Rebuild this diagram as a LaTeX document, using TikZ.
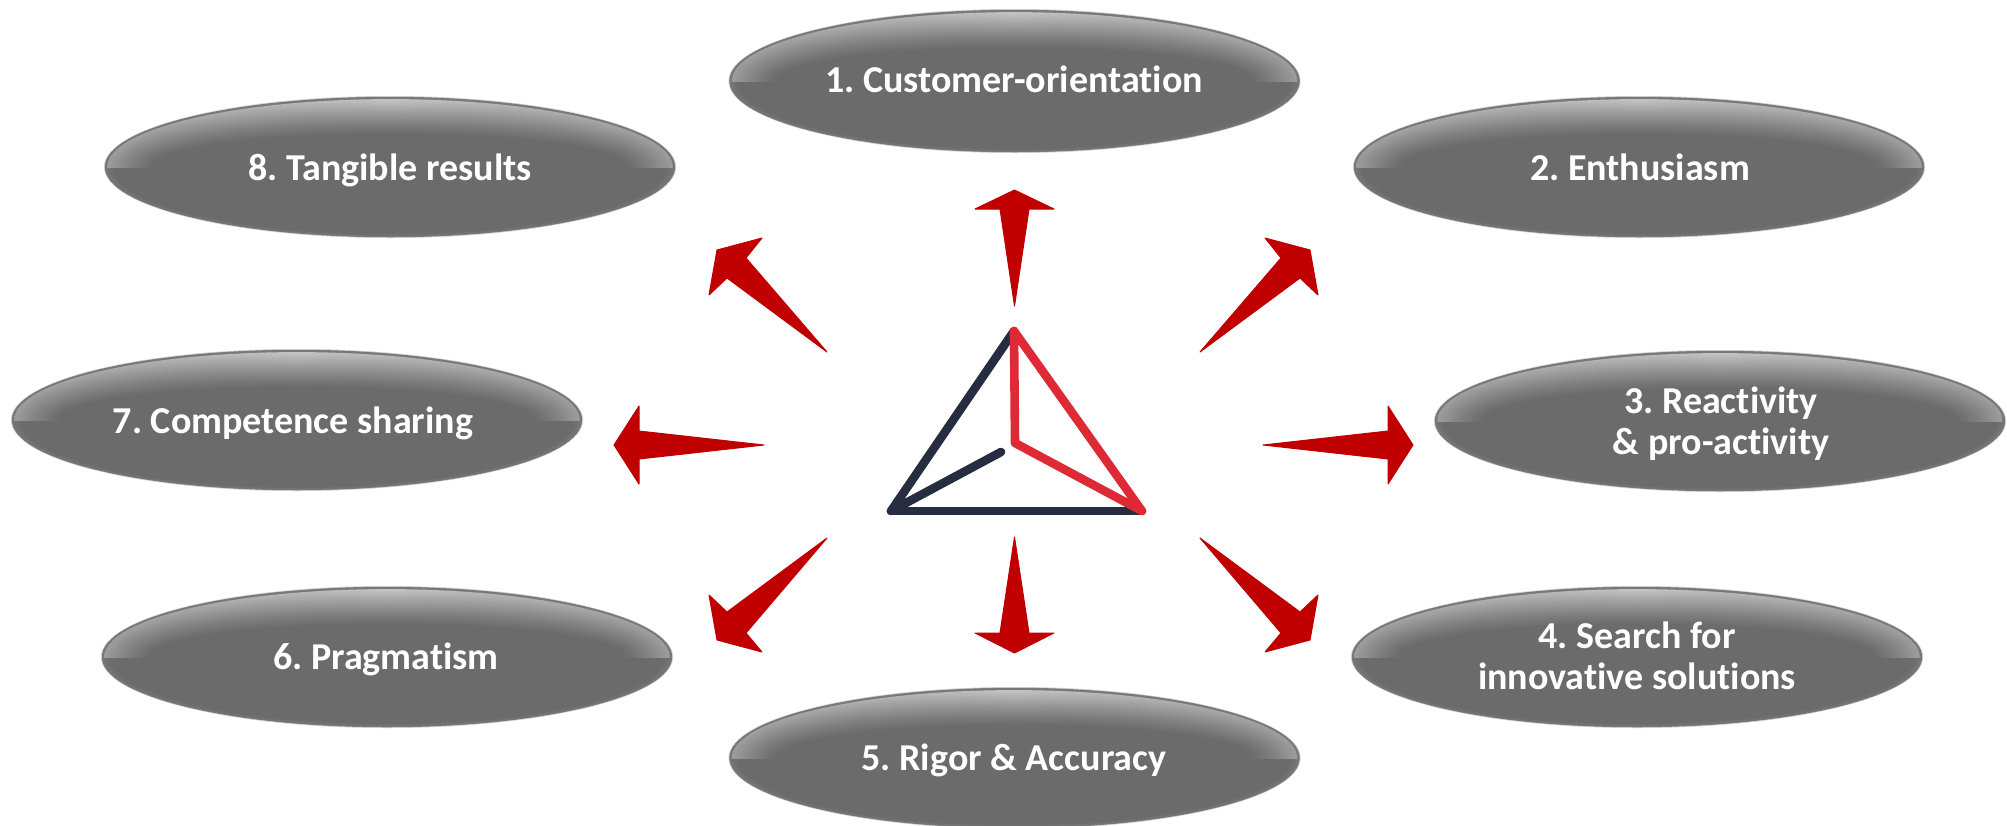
\documentclass[tikz,border=0pt]{standalone}
\usepackage{fontspec}
\setmainfont[Ligatures=NoCommon]{Carlito}
\definecolor{arrowred}{HTML}{C00000}
\definecolor{ovalbase}{HTML}{6B6B6B}
\definecolor{ovallight}{HTML}{C4C4C4}
\definecolor{ovalrim}{HTML}{787878}
\definecolor{logodark}{HTML}{262D40}
\definecolor{logored}{HTML}{DD2A35}
\tikzset{
  ovaltext/.style={text=white,font=\fontsize{19}{20.5}\selectfont\bfseries,align=center,inner sep=0pt,anchor=base},
  redarrow/.style={fill=arrowred,draw=arrowred,line width=0.5pt,line join=round},
  logodarkline/.style={draw=logodark,line width=4.3pt,line cap=round,line join=round},
  logoredline/.style={draw=logored,line width=4.3pt,line cap=round,line join=round},
}
% bevelled oval: centre x, centre y, x radius, y radius
\newcommand{\bevoval}[4]{%
  \begin{scope}[shift={(#1,#2)}]
    \fill[white!65!ovalbase] (0,0) ellipse [x radius=#3+1, y radius=#4+1];
    \fill[ovalbase] (0,0) ellipse [x radius=#3, y radius=#4];
    % lower rim
    \begin{scope}
      \clip (-#3-3,0) rectangle (#3+3,#4+3);
      \foreach \t in {0,10,...,100}{
        \pgfmathsetmacro{\rx}{#3*(1-0.03*\t/100)}
        \pgfmathsetmacro{\ry}{#4*(1-0.05*\t/100)}
        \pgfmathsetmacro{\mixv}{100-\t}
        \fill[ovalrim!\mixv!ovalbase] (0,0) ellipse [x radius=\rx, y radius=\ry];
      }
    \end{scope}
    % upper bevel
    \begin{scope}
      \clip (-#3-3,0) rectangle (#3+3,-#4-3);
      \fill[ovalrim] (0,0) ellipse [x radius=#3, y radius=#4];
      \foreach \t in {0,5,...,100}{
        \pgfmathsetmacro{\rx}{#3*(1-0.008-0.16*\t/100)}
        \pgfmathsetmacro{\ry}{#4*(1-0.03-0.50*\t/100)}
        \pgfmathsetmacro{\mixv}{100*(1-\t/100)^1.2}
        \pgfmathsetmacro{\mixe}{\mixv*0.55}
        \path[left color=ovallight!\mixe!ovalbase,right color=ovallight!\mixe!ovalbase,middle color=ovallight!\mixv!ovalbase] (0,0) ellipse [x radius=\rx, y radius=\ry];
      }
    \end{scope}
  \end{scope}%
}
\begin{document}
\frenchspacing
\begin{tikzpicture}[x=0.5pt,y=-0.5pt]
\useasboundingbox (0,0) rectangle (2007,825);

\begin{scope}
\clip (0,0) rectangle (2007,825);
\bevoval{1014.5}{81}{285}{71}
\bevoval{1639}{167}{285}{70}
\bevoval{1720}{421}{285}{70}
\bevoval{1637}{657}{285}{70}
\bevoval{1014.5}{758}{285}{70}
\bevoval{387}{657}{285}{70}
\bevoval{297}{420}{285}{70}
\bevoval{390}{167}{285}{70}
\end{scope}

\node[ovaltext] (t1) at (1014,92) {1. Customer-orientation};
\node[ovaltext] (t2) at (1640,180) {2. Enthusiasm};
\node[ovaltext] (t3) at (1721,454) {3. Reactivity\\\& pro-activity};
\node[ovaltext] (t4) at (1637,689) {4. Search for\\innovative solutions};
\node[ovaltext] (t5) at (1014,770) {5. Rigor \& Accuracy};
\node[ovaltext] (t6) at (386,669) {6. Pragmatism};
\node[ovaltext] (t7) at (293,433) {7. Competence sharing};
\node[ovaltext] (t8) at (390,180) {8. Tangible results};

% vertical arrows
\path[redarrow] (1014.5,306) -- (1029,209) -- (1054,209) -- (1014.5,190) -- (975,209) -- (1000,209) -- cycle;
\path[redarrow] (1014.5,537) -- (1029,633) -- (1054,633) -- (1014.5,653) -- (975,633) -- (1000,633) -- cycle;
% horizontal arrows
\path[redarrow] (1263,445) -- (1388,431) -- (1388,406) -- (1413,445) -- (1388,484) -- (1388,459) -- cycle;
\path[redarrow] (764,445) -- (639,431) -- (639,406) -- (614,445) -- (639,484) -- (639,459) -- cycle;
% diagonal arrows
\path[redarrow] (1200,352) -- (1281,258) -- (1265,238) -- (1310,250) -- (1318,295) -- (1300,278) -- cycle;
\path[redarrow] (1200,538) -- (1281,633) -- (1265,652) -- (1310,640) -- (1318,595) -- (1300,612) -- cycle;
\path[redarrow] (827,352) -- (746,258) -- (762,238) -- (717,250) -- (709,295) -- (727,278) -- cycle;
\path[redarrow] (827,538) -- (746,633) -- (762,652) -- (717,640) -- (709,595) -- (727,612) -- cycle;

% logo
\coordinate (apex) at (1014,331);
\coordinate (left) at (891,511);
\coordinate (right) at (1142,511);
\coordinate (inner) at (1015,443);
\coordinate (stub) at (1001,452);
\draw[logodarkline] (stub) -- (left) -- (apex);
\draw[logodarkline] (left) -- (right);
\draw[logoredline] (right) -- (inner) -- (apex) -- cycle;
\end{tikzpicture}
\end{document}
